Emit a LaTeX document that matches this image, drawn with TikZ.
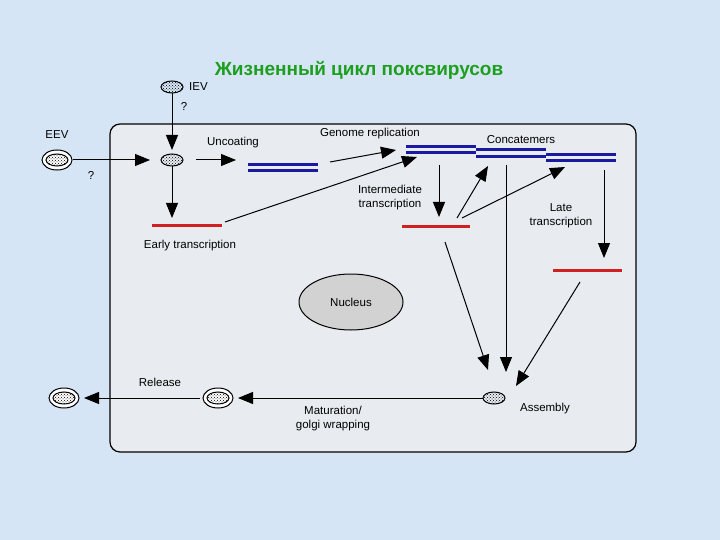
\documentclass[tikz,border=0pt]{standalone}
\usepackage{fontspec}
\setmainfont{Liberation Sans}
\usetikzlibrary{arrows.meta,patterns,shapes.geometric}
\definecolor{bg}{HTML}{D5E5F5}
\definecolor{boxbg}{HTML}{E8ECF0}
\definecolor{dblue}{HTML}{1A1AA0}
\definecolor{dred}{HTML}{D02020}
\definecolor{tgreen}{HTML}{1E9E1E}
\begin{document}
\begin{tikzpicture}[x=1pt,y=-1pt,
  lab/.style={font=\fontsize{11.5}{14}\selectfont, inner sep=1pt, align=center},
  arr/.style={-{Triangle[length=15pt,width=12pt]}, line width=1pt},
  bl/.style={dblue, line width=3pt},
  rd/.style={dred, line width=3pt},
  vir/.style={ellipse, minimum width=22pt, minimum height=12pt, draw, line width=1pt, pattern=crosshatch dots, inner sep=0pt},
  virring/.style={ellipse, minimum width=30pt, minimum height=20pt, draw, line width=1pt, fill=white, inner sep=0pt}
]
\useasboundingbox (0,0) rectangle (720,540);
\fill[bg] (0,0) rectangle (720,540);
\draw[fill=boxbg, line width=1.2pt, rounded corners=10pt] (110,124) rectangle (636,452);
\node[font=\bfseries\fontsize{19}{22}\selectfont, text=tgreen] (title) at (359,70) {Жизненный цикл поксвирусов};
% particles
\node[vir] (iev) at (172,87) {};
\node[lab, anchor=west] (ievl) at (188,87) {IEV};
\node[lab] (q1) at (184,106) {?};
\node[lab] (eevl) at (57,135) {EEV};
\node[virring] (eevr) at (57,160) {};
\node[vir] (eev) at (57,160) {};
\node[lab] (q2) at (91,175) {?};
\node[vir] (cv) at (172,160) {};
\draw[arr] (iev) -- (172,150);
\draw[arr] (eevr) -- (150,160);
\coordinate (cr) at (196,160);
\draw[arr] (cr) -- (236,160);
\node[lab] (unc) at (233,143) {Uncoating};
% blue double 1
\draw[bl] (248,165) coordinate (b1a) -- (318,165) coordinate (b1b);
\draw[bl] (248,171) -- (318,171);
% early transcription
\draw[arr] (cv) -- (172,218);
\draw[rd] (152,226) coordinate (r1a) -- (222,226) coordinate (r1b);
\node[lab] (early) at (190,246) {Early transcription};
% genome replication
\node[lab] (genr) at (370,134) {Genome replication};
\coordinate (g1) at (330,162);
\draw[arr] (g1) -- (396,150);
\draw[arr] (r1b) ++(3,-4) -- (417,157);
% concatemers
\draw[bl] (406,147) -- (476,147);
\draw[bl] (406,153) -- (476,153);
\draw[bl] (476,150) -- (546,150);
\draw[bl] (476,157) -- (546,157);
\draw[bl] (546,155) -- (616,155);
\draw[bl] (546,161) -- (616,161);
\node[lab] (conc) at (521,140) {Concatemers};
% intermediate
\node[lab] (inter) at (390,198) {Intermediate\\transcription};
\draw[arr] (439,165) -- (439,217);
\draw[rd] (402,227) -- (470,227);
\coordinate (im) at (457,218);
\draw[arr] (im) -- (488,166);
\draw[arr] (462,218) -- (565,167);
% late
\node[lab] (late) at (561,216) {Late\\transcription};
\draw[arr] (604,170) -- (604,258);
\draw[rd] (553,270) -- (622,270);
% nucleus
\node[ellipse, draw, line width=1pt, fill=gray!35, minimum width=104pt, minimum height=56pt, lab] (nuc) at (351,302) {Nucleus};
% assembly
\node[vir] (asm) at (494,398) {};
\node[lab] (asml) at (545,409) {Assembly};
\draw[arr] (445,242) -- (488,370);
\draw[arr] (506,165) -- (506,372);
\draw[arr] (580,282) -- (516,386);
% maturation
\node[virring] (matr) at (218,398) {};
\node[vir] (mat) at (218,398) {};
\draw[arr] (asm) -- (238,398);
\node[lab] (matl) at (333,419) {Maturation/\\golgi wrapping};
% release
\node[virring] (relr) at (64,398) {};
\node[vir] (rel) at (64,398) {};
\coordinate (rs) at (200,398);
\draw[arr] (rs) -- (84,398);
\node[lab] (rell) at (160,382) {Release};
\end{tikzpicture}
\end{document}
